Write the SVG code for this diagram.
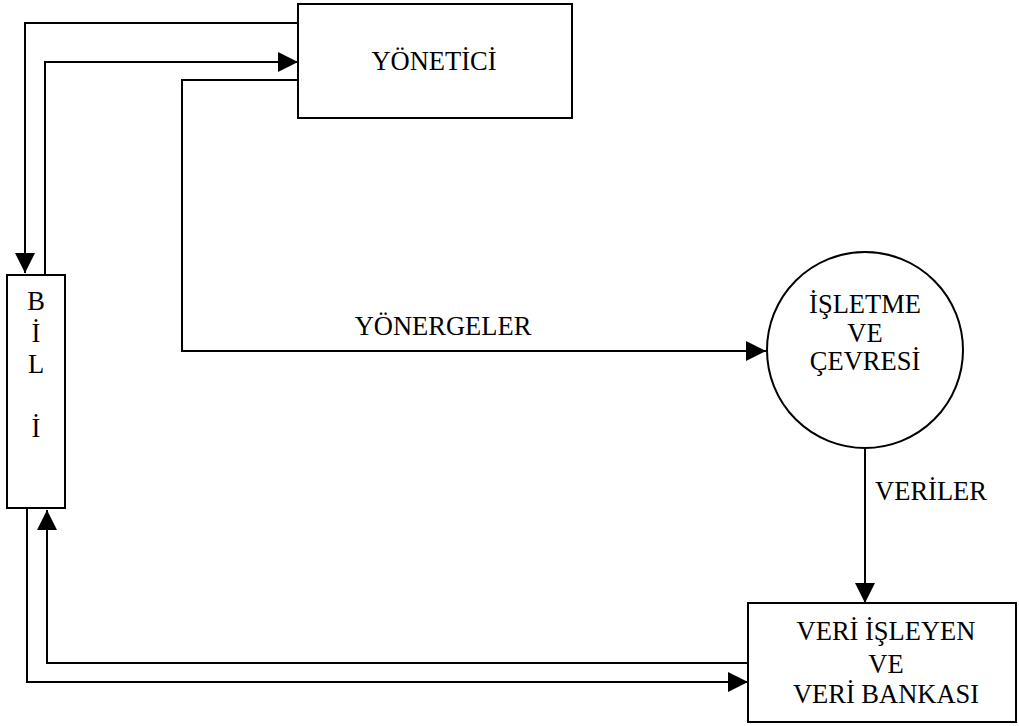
<svg xmlns="http://www.w3.org/2000/svg" width="1019" height="726" viewBox="0 0 1019 726">
<style>
.n{fill:#fff;stroke:#000;stroke-width:2}
.c{fill:none;stroke:#000;stroke-width:2}
text{font-family:"Liberation Serif","Times New Roman",serif;font-size:26.5px;fill:#000;text-anchor:middle}
</style>
<defs>
<marker id="ah" markerUnits="userSpaceOnUse" viewBox="0 0 20 20" refX="20" refY="10" markerWidth="20" markerHeight="20" orient="auto">
<path d="M0,0L20,10L0,20Z" fill="#000"/>
</marker>
</defs>
<rect width="1019" height="726" fill="#fff"/>
<g id="connectors">
<path class="c" d="M298,23H25V273" marker-end="url(#ah)"/>
<path class="c" d="M45,275V62H298" marker-end="url(#ah)"/>
<path class="c" d="M298,80H182V351H766" marker-end="url(#ah)"/>
<path class="c" d="M865,448V603" marker-end="url(#ah)"/>
<path class="c" d="M748,663H47V510" marker-end="url(#ah)"/>
<path class="c" d="M27,508V682H748" marker-end="url(#ah)"/>
<text x="443" y="335">YÖNERGELER</text>
<text x="931" y="500">VERİLER</text>
</g>
<g id="yonetici">
<rect class="n" x="298" y="4" width="274" height="114"/>
<text x="434" y="70">YÖNETİCİ</text>
</g>
<g id="bili">
<rect class="n" x="7" y="275" width="58" height="233"/>
<text x="36" y="310">B</text>
<text x="36" y="342">İ</text>
<text x="36" y="373">L</text>
<text x="36" y="437">İ</text>
</g>
<g id="isletme">
<circle class="n" cx="865" cy="350" r="98"/>
<text x="865" y="313">İŞLETME</text>
<text x="865" y="342">VE</text>
<text x="865" y="370">ÇEVRESİ</text>
</g>
<g id="veri">
<rect class="n" x="748" y="603" width="268" height="119"/>
<text x="886" y="640">VERİ İŞLEYEN</text>
<text x="886" y="673">VE</text>
<text x="886" y="703">VERİ BANKASI</text>
</g>
</svg>
